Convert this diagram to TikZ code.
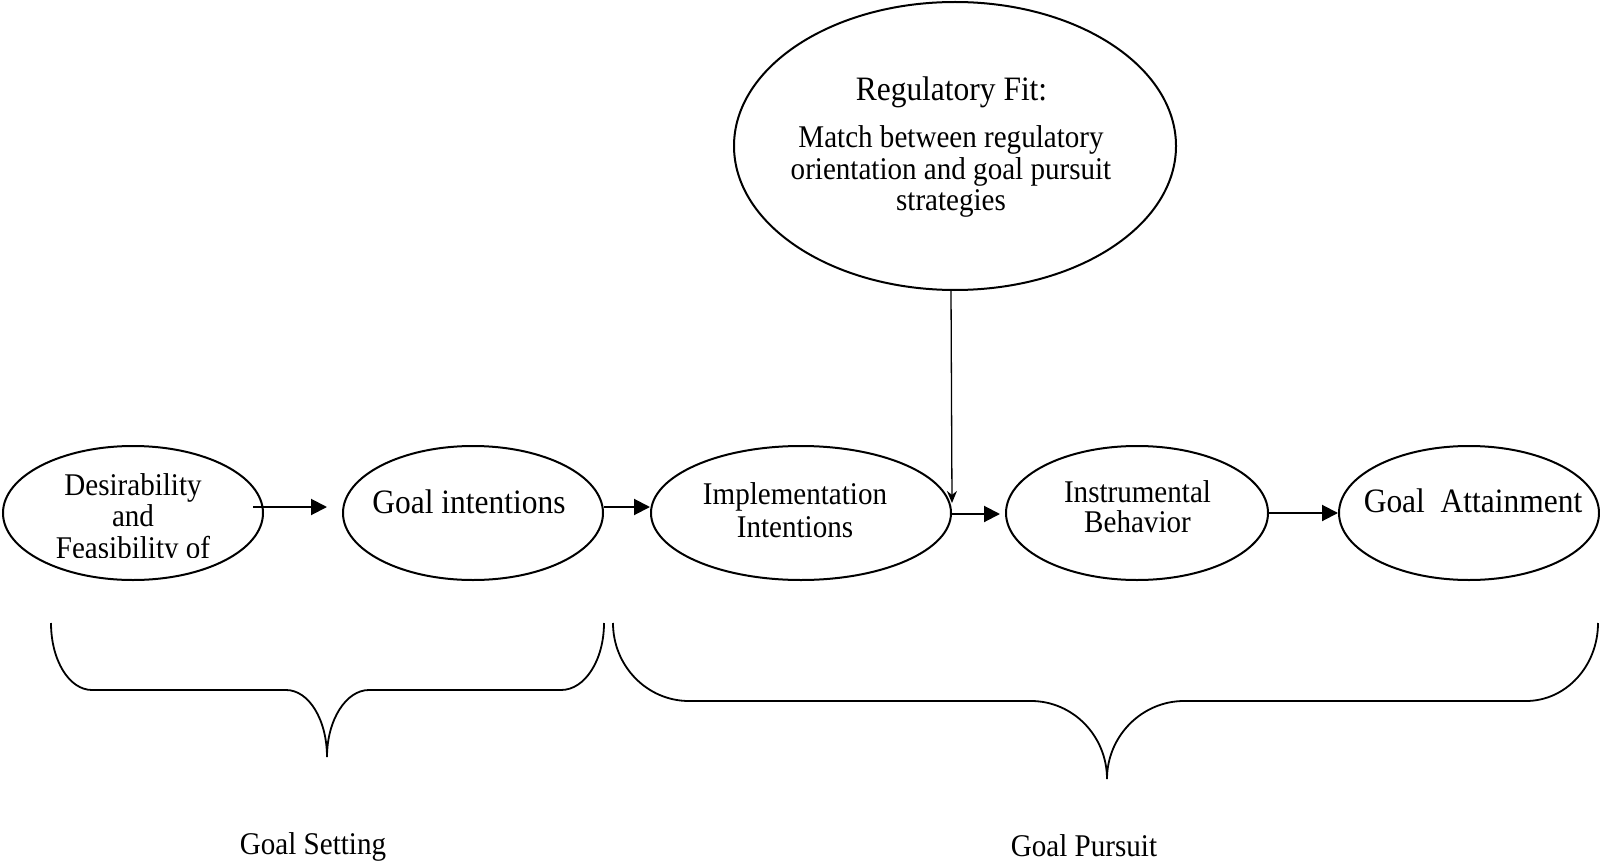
\documentclass[tikz,border=0pt]{standalone}
\usepackage{fontspec}
\setmainfont{Liberation Serif}[FakeStretch=0.92]
\usetikzlibrary{arrows.meta,shapes.geometric}
\newcommand{\stk}[1]{\begin{tabular}[t]{@{}c@{}}#1\end{tabular}}
\begin{document}
\begin{tikzpicture}[x=0.5pt,y=-0.5pt,
  ell/.style={draw, ellipse, inner sep=0pt, line width=1pt},
  big/.style={inner sep=0pt, anchor=base, font=\fontsize{17.1}{19}\selectfont},
  small/.style={inner sep=0pt, anchor=base, font=\fontsize{15.8}{#1}\selectfont},
  small/.default=17pt,
  arr/.style={line width=1pt, -{Triangle[length=8pt,width=8pt]}},
  varr/.style={line width=0.65pt, -{Stealth[length=6pt,width=5pt]}},
  brace/.style={line width=0.9pt}]
\useasboundingbox (0,0) rectangle (1600,861);

% ellipses
\node[ell, minimum width=130pt, minimum height=67pt] (d) at (133,513) {};
\node[ell, minimum width=130pt, minimum height=67pt] (g) at (473,513) {};
\node[ell, minimum width=150pt, minimum height=67pt] (i) at (801,513) {};
\node[ell, minimum width=131pt, minimum height=67pt] (b) at (1137,513) {};
\node[ell, minimum width=130pt, minimum height=67pt] (a) at (1469,513) {};
\node[ell, minimum width=221pt, minimum height=144pt] (r) at (955,146) {};

% texts
\begin{scope}
  \clip (0,440) rectangle (270,557);
  \node[small=15.75pt] (dT) at (133,495) {\stk{Desirability\\and\\Feasibility of}};
\end{scope}
\node[big] (gT) at (469,513) {Goal intentions};
\node[small=16.5pt] (iT) at (795,504) {\stk{Implementation\\Intentions}};
\node[small=15pt] (bT) at (1137.5,502) {\stk{Instrumental\\Behavior}};
\node[big] (aT) at (1473,512) {Goal\ \ Attainment};
\node[big] (rT) at (951.5,101) {Regulatory Fit:};
\node[small=15.6pt] (rM) at (951,148) {\stk{Match between regulatory\\orientation and goal pursuit\\strategies}};
\node[small] (gs) at (313,854) {Goal Setting};
\node[small] (gp) at (1084,856) {Goal Pursuit};

% connectors
\draw[arr] ([shift={(-11,-6)}]d.east) -- ([shift={(-15,-6)}]g.west);
\draw[arr] ([shift={(0,-6)}]g.east) -- ([shift={(0,-6)}]i.west);
\draw[arr] ([shift={(0,1)}]i.east) -- ([shift={(-5,1)}]b.west);
\draw[arr] (b.east) -- (a.west);
\draw[varr] ([shift={(-4,0)}]r.south) -- ([shift={(0,-10)}]i.east);

% braces
\draw[brace] (51,623) .. controls (51,660) and (69,690) .. (92,690) -- (286,690)
  .. controls (309,690) and (327,720) .. (327,757)
  .. controls (327,720) and (346,690) .. (369,690) -- (561,690)
  .. controls (585,690) and (604,660) .. (604,623);
\draw[brace] (613,623) .. controls (613,666) and (647,701) .. (689,701) -- (1031,701)
  .. controls (1073,701) and (1107,736) .. (1107,779)
  .. controls (1107,736) and (1142,701) .. (1184,701) -- (1526,701)
  .. controls (1566,701) and (1598,666) .. (1598,623);
\end{tikzpicture}
\end{document}
